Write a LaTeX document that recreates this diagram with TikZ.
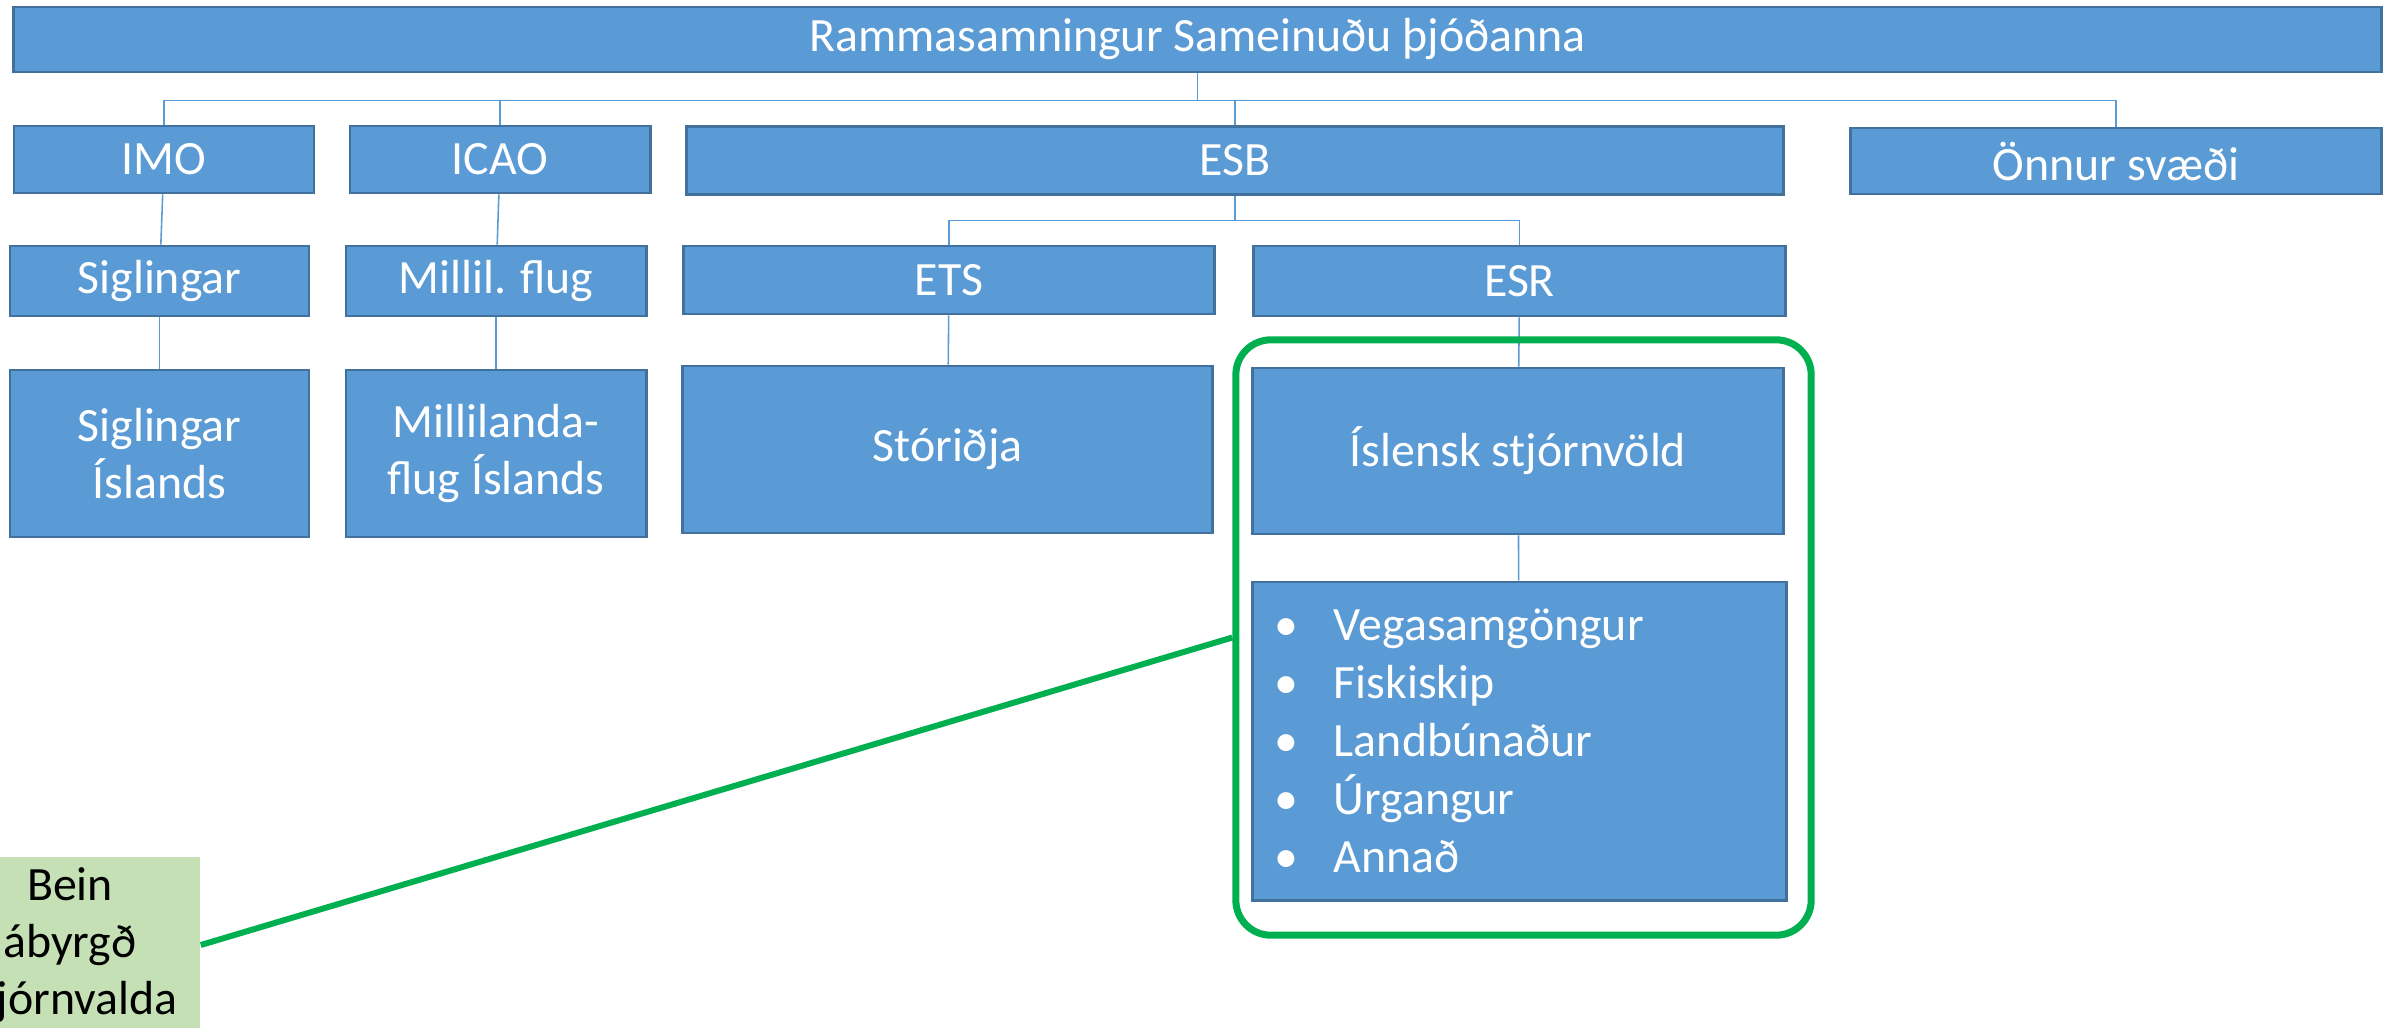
\documentclass[tikz,border=0pt]{standalone}
\usepackage{fontspec}
\setmainfont{Carlito}
\usepackage{tikz}

\definecolor{boxblue}{HTML}{5B9BD5}
\definecolor{boxedge}{HTML}{41719C}
\definecolor{okgreen}{HTML}{00B050}
\definecolor{notegreen}{HTML}{C5E0B4}

\begin{document}
\begin{tikzpicture}[x=0.01cm, y=-0.01cm,
    every node/.style={font=\fontsize{13.6}{16.3}\selectfont},
    unit/.style={draw=boxedge, line width=0.8pt, fill=boxblue, text=white,
                 align=center, inner sep=0pt},
    conn/.style={draw=boxblue, line width=0.45pt},
    frame/.style={draw=okgreen, line width=2pt, rounded corners=0.35cm,
                  minimum width=5.75cm, minimum height=5.95cm},
    note/.style={fill=notegreen, text=black, align=center, inner sep=0pt,
                 minimum width=2.6cm, minimum height=1.76cm}]

  \useasboundingbox (0,0) rectangle (2392,1027);
  \clip (0,0) rectangle (2392,1027);

  % Top level
  \node[unit, minimum width=23.67cm, minimum height=0.65cm] (top) at (1197.5, 39.5) {Rammasamningur Sameinuðu þjóðanna};

  % Second row
  \node[unit, minimum width=3cm, minimum height=0.67cm]     (imo)   at (164, 159.5)  {IMO};
  \node[unit, minimum width=3cm, minimum height=0.67cm]     (icao)  at (500, 159.5)  {ICAO};
  \node[unit, minimum width=10.96cm, minimum height=0.68cm] (esb)   at (1235, 160.5) {ESB};
  \node[unit, minimum width=5.3cm, minimum height=0.66cm]   (onnur) at (2116, 161)   {Önnur svæði};

  % Third row
  \node[unit, minimum width=2.99cm, minimum height=0.7cm]  (sigl)   at (159.5, 281)  {Siglingar};
  \node[unit, minimum width=3cm, minimum height=0.7cm]     (millil) at (496, 281)    {Millil. flug};
  \node[unit, minimum width=5.3cm, minimum height=0.68cm]  (ets)    at (949, 280)    {ETS};
  \node[unit, minimum width=5.31cm, minimum height=0.7cm]  (esr)    at (1519.5, 281) {ESR};

  % Fourth row
  \node[unit, minimum width=2.99cm, minimum height=1.67cm] (siglisl) at (159.5, 453.5) {Siglingar\\Íslands};
  \node[unit, minimum width=3cm, minimum height=1.67cm]    (millisl) at (496, 453.5)   {Millilanda-\\flug Íslands};
  \node[unit, minimum width=5.29cm, minimum height=1.67cm] (stor)    at (947.5, 449.5) {Stóriðja};
  \node[unit, minimum width=5.3cm, minimum height=1.66cm]  (isl)     at (1518, 451)    {Íslensk stjórnvöld};

  % Sectors
  \node[unit, align=left, minimum width=5.33cm, minimum height=3.18cm,
        inner xsep=0.22cm, text width=4.89cm,
        font=\fontsize{13.6}{16.5}\selectfont] (geirar) at (1519.5, 741)
    {\makebox[0.59cm][l]{•}Vegasamgöngur\\
     \makebox[0.59cm][l]{•}Fiskiskip\\
     \makebox[0.59cm][l]{•}Landbúnaður\\
     \makebox[0.59cm][l]{•}Úrgangur\\
     \makebox[0.59cm][l]{•}Annað};

  % Connectors
  \draw[conn] (top.south) -- ++(0,27) -| (imo.north);
  \draw[conn] (top.south) -- ++(0,27) -| (icao.north);
  \draw[conn] (top.south) -- ++(0,27) -| (esb.north);
  \draw[conn] (top.south) -- ++(0,27) -| (onnur.north);
  \draw[conn] (esb.south) -- ++(0,24.5) -| (ets.north);
  \draw[conn] (esb.south) -- ++(0,24.5) -| (esr.north);
  \draw[conn] (imo) -- (sigl);
  \draw[conn] (icao) -- (millil);
  \draw[conn] (sigl) -- (siglisl);
  \draw[conn] (millil) -- (millisl);
  \draw[conn] (ets) -- (stor);
  \draw[conn] (esr) -- (isl);
  \draw[conn] (isl) -- (geirar);

  % Direct responsibility
  \node[frame] (ramma) at (1523.5, 637.5) {};
  \node[note] (bein) at (70, 945) {Bein\\ábyrgð\\stjórnvalda};
  \draw[okgreen, line width=1.7pt] (bein.east) -- (ramma.west);
\end{tikzpicture}
\end{document}
